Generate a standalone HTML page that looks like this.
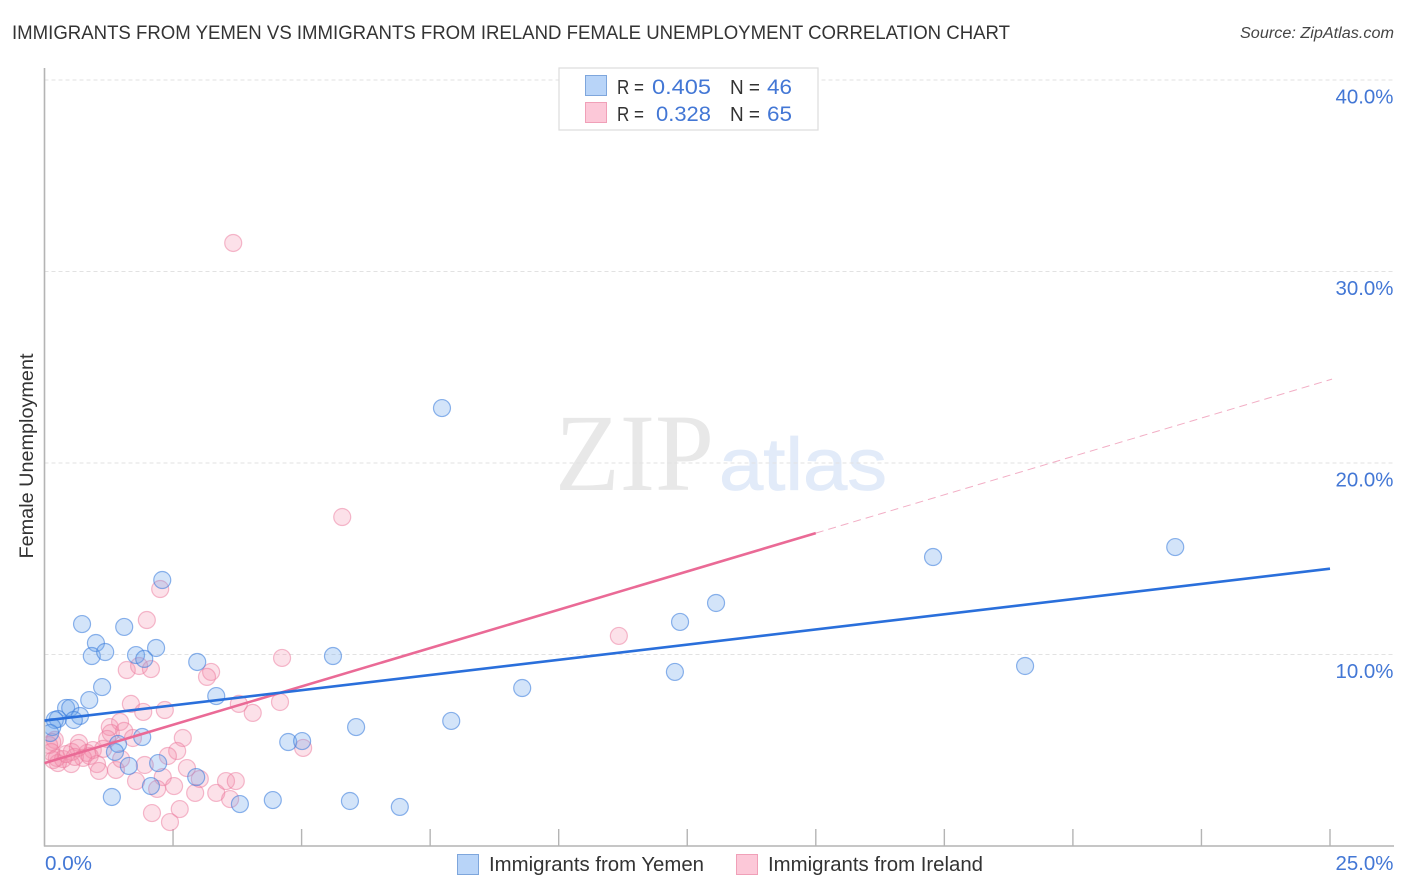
<!DOCTYPE html>
<html lang="en">
<head>
<meta charset="utf-8">
<title>Immigrants from Yemen vs Immigrants from Ireland Female Unemployment Correlation Chart</title>
<style>
html,body{margin:0;padding:0;background:#fff;width:1406px;height:892px;overflow:hidden}
svg{display:block;font-family:"Liberation Sans",sans-serif}
</style>
</head>
<body>
<svg id="chart" xmlns="http://www.w3.org/2000/svg" width="1406" height="892" viewBox="0 0 1406 892">
  <defs>
    <clipPath id="plot-clip"><rect x="45.5" y="60" width="1350" height="786"/></clipPath>
  </defs>
  <rect x="0" y="0" width="1406" height="892" fill="#ffffff"/>
  <text x="12" y="39" font-size="19" fill="#333333" textLength="998" lengthAdjust="spacingAndGlyphs">IMMIGRANTS FROM YEMEN VS IMMIGRANTS FROM IRELAND FEMALE UNEMPLOYMENT CORRELATION CHART</text>
  <text x="1394" y="38" font-size="15.5" font-style="italic" fill="#444444" text-anchor="end" textLength="154" lengthAdjust="spacingAndGlyphs">Source: ZipAtlas.com</text>
  <g>
    <text x="555" y="490" font-family="'Liberation Serif',serif" font-size="110" fill="#e8e8e8" textLength="159" lengthAdjust="spacingAndGlyphs">ZIP</text>
    <text x="719" y="490" font-size="74" fill="#e2ebf9" stroke="#e2ebf9" stroke-width="0.8" textLength="168" lengthAdjust="spacingAndGlyphs">atlas</text>
  </g>
  <g id="grid"></g>
  <g id="axes"></g>
  <g id="pink-points" clip-path="url(#plot-clip)"></g>
  <g id="blue-points" clip-path="url(#plot-clip)"></g>
  <g id="trends"></g>
  <text transform="translate(33,456) rotate(-90)" font-size="19" fill="#333333" text-anchor="middle" textLength="205" lengthAdjust="spacingAndGlyphs">Female Unemployment</text>
  <g>
    <rect x="559" y="68" width="259" height="62" fill="#ffffff" stroke="#dcdcdc" stroke-width="1.2"/>
    <rect x="585.5" y="75.5" width="21" height="20" fill="#b8d4f8" stroke="#7ea6dc" stroke-width="1"/>
    <rect x="585.5" y="102.5" width="21" height="20" fill="#fcc8d8" stroke="#f0a0b8" stroke-width="1"/>
    <text x="617" y="94" font-size="20" fill="#333333" textLength="27" lengthAdjust="spacingAndGlyphs">R =</text>
    <text x="652" y="94" font-size="21" fill="#4377d5" textLength="59" lengthAdjust="spacingAndGlyphs">0.405</text>
    <text x="730" y="94" font-size="20" fill="#333333" textLength="30" lengthAdjust="spacingAndGlyphs">N =</text>
    <text x="767" y="94" font-size="21" fill="#4377d5" textLength="25" lengthAdjust="spacingAndGlyphs">46</text>
    <text x="617" y="121" font-size="20" fill="#333333" textLength="27" lengthAdjust="spacingAndGlyphs">R =</text>
    <text x="656" y="121" font-size="21" fill="#4377d5" textLength="55" lengthAdjust="spacingAndGlyphs">0.328</text>
    <text x="730" y="121" font-size="20" fill="#333333" textLength="30" lengthAdjust="spacingAndGlyphs">N =</text>
    <text x="767" y="121" font-size="21" fill="#4377d5" textLength="25" lengthAdjust="spacingAndGlyphs">65</text>
  </g>
  <g>
    <rect x="457.5" y="854.5" width="21" height="20" fill="#b8d4f8" stroke="#7ea6dc" stroke-width="1"/>
    <text x="489" y="871" font-size="20" fill="#333333" textLength="215" lengthAdjust="spacingAndGlyphs">Immigrants from Yemen</text>
    <rect x="736.5" y="854.5" width="21" height="20" fill="#fcc8d8" stroke="#f0a0b8" stroke-width="1"/>
    <text x="768" y="871" font-size="20" fill="#333333" textLength="215" lengthAdjust="spacingAndGlyphs">Immigrants from Ireland</text>
  </g>
</svg>
<script>
var yemenX = [7.73,21.99,17.28,2.29,13.06,12.36,0.73,1.55,1.00,2.17,0.92,1.18,1.78,1.94,5.61,2.97,19.07,12.26,1.12,9.29,3.34,0.87,0.42,0.50,0.69,0.57,0.26,0.20,7.91,6.06,0.15,0.11,1.90,4.74,5.01,1.43,1.37,2.21,1.64,2.95,2.07,1.31,4.44,5.94,3.80,6.91];
var yemenY = [22.87,15.61,15.09,13.89,12.69,11.70,11.59,11.44,10.60,10.34,9.92,10.13,9.97,9.77,9.92,9.61,9.40,9.09,8.30,8.25,7.83,7.62,7.21,7.21,6.79,6.58,6.63,6.58,6.53,6.21,6.21,5.90,5.69,5.43,5.48,5.33,4.91,4.33,4.18,3.60,3.13,2.56,2.40,2.35,2.19,2.04];
var irelandX = [3.67,5.79,2.25,1.99,11.17,4.62,1.60,1.84,2.07,3.24,3.16,1.68,1.92,2.34,3.78,4.58,4.05,1.47,1.27,1.29,1.55,1.22,1.72,2.69,0.20,0.15,5.03,0.67,2.58,2.40,0.94,0.83,0.53,0.24,0.36,0.75,0.52,0.26,0.17,1.02,1.06,1.39,1.49,1.95,2.77,2.30,1.78,3.02,2.52,2.19,2.93,3.34,3.53,3.72,3.61,2.63,2.09,2.44,0.65,1.14,0.42,0.88,0.59,0.09,0.13];
var irelandY = [31.49,17.18,13.42,11.80,10.97,9.82,9.19,9.40,9.24,9.09,8.83,7.42,7.00,7.10,7.42,7.52,6.95,6.48,6.21,5.90,6.01,5.59,5.64,5.64,5.54,5.43,5.12,5.38,4.96,4.70,5.01,4.86,4.91,4.60,4.54,4.60,4.28,4.33,4.49,4.28,3.92,3.97,4.54,4.23,4.07,3.60,3.39,3.50,3.13,2.98,2.77,2.77,3.39,3.39,2.45,1.93,1.72,1.25,5.12,5.07,4.80,4.70,4.65,5.27,4.91];
var yemenTrendX = [0,25];
var yemenTrendY = [6.55,14.48];
var irelandTrendX = [0,15];
var irelandTrendY = [4.33,16.34];
var irelandDashX = [15,25.04];
var irelandDashY = [16.34,24.38];
var yTicks = [10,20,30,40];
var yTickLabels = ["10.0%","20.0%","30.0%","40.0%"];
var xTicks = [2.5,5,7.5,10,12.5,15,17.5,20,22.5,25];
var xEndTicks = [0,25];
var xEndLabels = ["0.0%","25.0%"];

var NS = 'http://www.w3.org/2000/svg';
function sx(v){ return 44.5 + v * 51.42; }
function sy(v){ return 846 - v * 19.15; }
function mk(tag, parent, attrs){
  var el = document.createElementNS(NS, tag);
  for (var k in attrs) el.setAttribute(k, attrs[k]);
  parent.appendChild(el);
  return el;
}
var grid = document.getElementById('grid');
var axes = document.getElementById('axes');
yTicks.forEach(function(t, i){
  var g = mk('line', grid, {x1:44.5, x2:1394, y1:sy(t), y2:sy(t), stroke:'#e2e2e2', 'stroke-width':1, 'stroke-dasharray':'4 3'});
  
  
  var l = mk('text', axes, {x:1393.5, y:sy(t)+23.5, 'font-size':20, fill:'#4377d5', 'text-anchor':'end', textLength:58, lengthAdjust:'spacingAndGlyphs'});
  l.textContent = yTickLabels[i];
  
  
});
var yAxis = mk('line', axes, {x1:44.5, x2:44.5, y1:68, y2:846.5, stroke:'#b4b4b4', 'stroke-width':1.6});


var xAxis = mk('line', axes, {x1:44, x2:1394, y1:846, y2:846, stroke:'#b4b4b4', 'stroke-width':1.6});


xTicks.forEach(function(t){
  var k = mk('line', axes, {x1:sx(t), x2:sx(t), y1:829, y2:846, stroke:'#b4b4b4', 'stroke-width':1.4});
  
  
});
xEndTicks.forEach(function(t, i){
  var l = mk('text', axes, {x: i === 0 ? sx(t) + 0.5 : 1393.5, y:870, 'font-size':20, fill:'#4377d5', 'text-anchor': i === 0 ? 'start' : 'end', textLength: i === 0 ? 47 : 58, lengthAdjust:'spacingAndGlyphs'});
  l.textContent = xEndLabels[i];
  
  
});
var pinkG = document.getElementById('pink-points');
irelandX.forEach(function(v, i){
  var c = mk('circle', pinkG, {cx:sx(v), cy:sy(irelandY[i]), r:8.5, fill:'rgba(245,140,170,0.26)', stroke:'rgba(236,120,155,0.5)', 'stroke-width':1.2});
  
  
});
var blueG = document.getElementById('blue-points');
yemenX.forEach(function(v, i){
  var c = mk('circle', blueG, {cx:sx(v), cy:sy(yemenY[i]), r:8.5, fill:'rgba(110,165,235,0.3)', stroke:'rgba(60,125,220,0.58)', 'stroke-width':1.2});
  
  
});
var trends = document.getElementById('trends');
var t1 = mk('line', trends, {x1:sx(irelandTrendX[0]), y1:sy(irelandTrendY[0]), x2:sx(irelandTrendX[1]), y2:sy(irelandTrendY[1]), stroke:'#ea6a96', 'stroke-width':2.6});


var t2 = mk('line', trends, {x1:sx(irelandDashX[0]), y1:sy(irelandDashY[0]), x2:sx(irelandDashX[1]), y2:sy(irelandDashY[1]), stroke:'#f2aec5', 'stroke-width':1, 'stroke-dasharray':'8 5'});


var t3 = mk('line', trends, {x1:sx(yemenTrendX[0]), y1:sy(yemenTrendY[0]), x2:sx(yemenTrendX[1]), y2:sy(yemenTrendY[1]), stroke:'#2a6fdb', 'stroke-width':2.6});


</script>
</body>
</html>
